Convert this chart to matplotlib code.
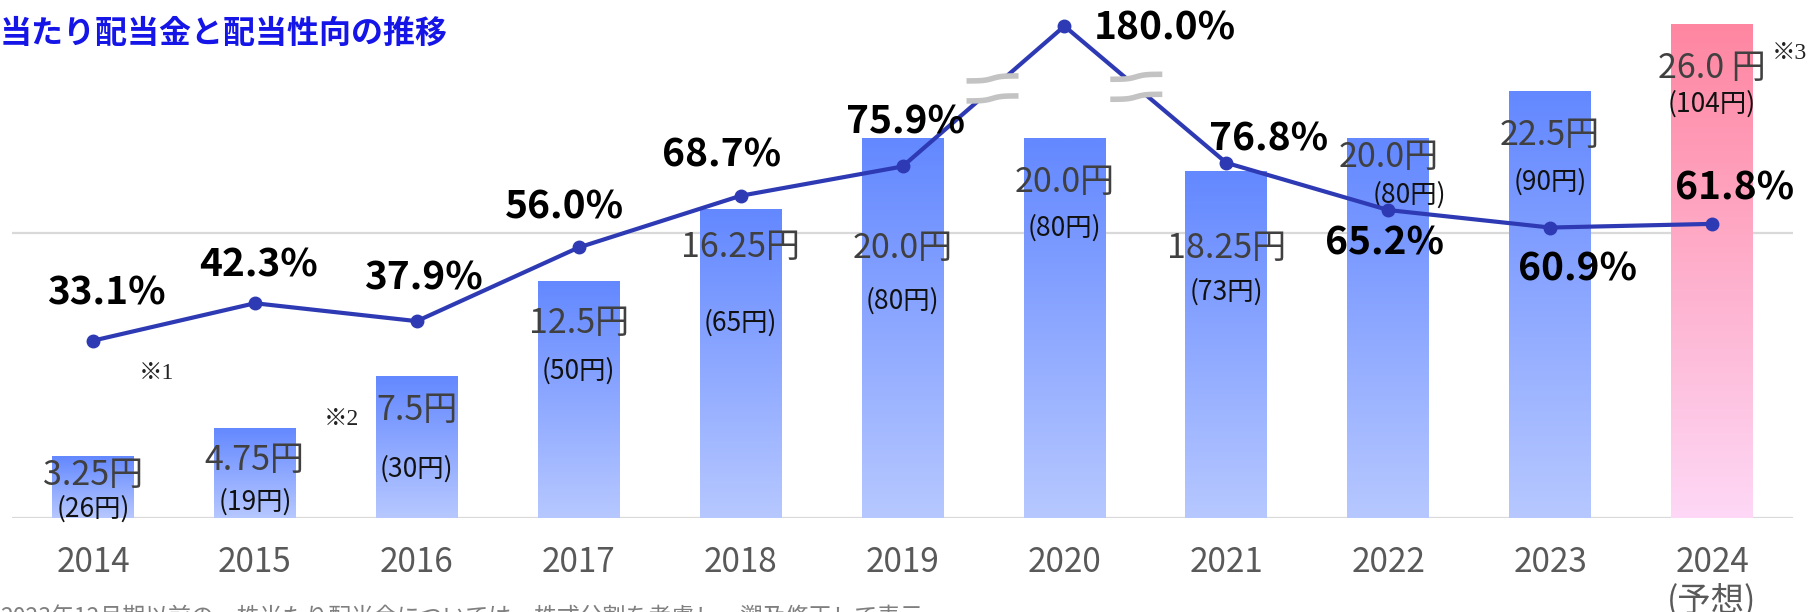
import numpy as np
import matplotlib
matplotlib.use('Agg')
import matplotlib.pyplot as plt
from matplotlib.colors import LinearSegmentedColormap
from matplotlib.transforms import ScaledTranslation, blended_transform_factory

plt.rcParams['font.family'] = ['Noto Sans CJK JP', 'DejaVu Sans']

# ---- data ----
years = ['2014', '2015', '2016', '2017', '2018', '2019', '2020', '2021', '2022', '2023', '2024\n(予想)']
dividend = [3.25, 4.75, 7.5, 12.5, 16.25, 20.0, 20.0, 18.25, 20.0, 22.5, 26.0]
dividend_text = ['3.25円', '4.75円', '7.5円', '12.5円', '16.25円', '20.0円', '20.0円',
                 '18.25円', '20.0円', '22.5円', '26.0 円']
pre_split_text = ['(26円)', '(19円)', '(30円)', '(50円)', '(65円)', '(80円)', '(80円)',
                  '(73円)', '(80円)', '(90円)', '(104円)']
payout = [33.1, 42.3, 37.9, 56.0, 68.7, 75.9, 180.0, 76.8, 65.2, 60.9, 61.8]
forecast = [False] * 10 + [True]
title = '当たり配当金と配当性向の推移'
footnote = '2023年12月期以前の一株当たり配当金については、株式分割を考慮し、遡及修正して表示'

# ---- layout (label placement) ----
payout_cap = 110.4          # broken axis: values above this are drawn at the cap
div_label_y = [1.74, 2.53, 5.16, 9.74, 13.74, 13.68, 17.16, 13.68, 18.47, 19.63, 23.16]
pre_label_y = [0.05, 0.42, 2.16, 7.32, 9.84, 11.0, 14.84, 11.47, 16.58, 17.26, 21.37]
pre_label_dx = [0, 0, 0, 0, 0, 0, 0, 0, 0.13, 0, 0]
pct_dx = [0.08, 0.02, 0.04, -0.09, -0.12, 0.02, 0.62, 0.26, -0.02, 0.17, 0.14]
pct_y = [41.9, 48.8, 45.6, 63.0, 75.8, 84.1, 107.0, 79.9, 54.2, 48.0, 67.7]
notes = [('※1', 0.395, 7.63), ('※2', 1.537, 5.16), ('※3', 10.475, 24.47)]

blue_cmap = LinearSegmentedColormap.from_list('blue', ['#B7C8FF', '#6388FF'])
pink_cmap = LinearSegmentedColormap.from_list('pink', ['#FDD8F6', '#FF86A1'])
line_color = '#2E3AB4'

fig = plt.figure(figsize=(18.09, 6.12), dpi=100)
ax = fig.add_axes([12 / 1809, 94 / 612, 1781 / 1809, 506 / 612])
ax2 = ax.twinx()
x = np.arange(len(years))

ax.set_xlim(-0.5, len(years) - 0.5)
ax.set_ylim(0, 506 / 19)
ax.set_yticks([0, 15])
ax.yaxis.grid(True, color='#D9D9D9', lw=1.6)
ax.set_axisbelow(True)
ax.tick_params(left=False, right=False, bottom=False, labelleft=False, labelbottom=False)
for s in ax.spines.values():
    s.set_visible(False)

bars = ax.bar(x, dividend, width=0.505, color='none', zorder=2)
grad = np.linspace(0, 1, 256).reshape(-1, 1)
for b, f in zip(bars, forecast):
    x0, w, h = b.get_x(), b.get_width(), b.get_height()
    im = ax.imshow(grad, cmap=pink_cmap if f else blue_cmap, origin='lower', aspect='auto',
                   extent=(x0, x0 + w, 0, h), zorder=2)
    im.set_clip_path(b)
ax.set_xlim(-0.5, len(years) - 0.5)
ax.set_ylim(0, 506 / 19)

for i in x:
    ax.text(i, div_label_y[i], dividend_text[i], ha='center', va='baseline',
            fontsize=24.5, color='#404040', zorder=4)
    ax.text(i + pre_label_dx[i], pre_label_y[i], pre_split_text[i], ha='center', va='baseline',
            fontsize=19, color='#111111', zorder=4)

for txt, nx, ny in notes:
    ax.text(nx, ny, txt, ha='center', va='center', fontsize=17, color='#222222',
            family=['Liberation Serif', 'Noto Sans CJK JP'])

# year labels
tr = blended_transform_factory(ax.transData, ax.transAxes)
for i, lab in enumerate(years):
    for k, part in enumerate(lab.split('\n')):
        ax.text(i, -0.1067 - 0.075 * k, part, transform=tr, ha='center', va='baseline',
                fontsize=24, color='#595959')

# payout ratio line
ax2.set_ylim(-10.47, 113.86)
ax2.axis('off')
shown = np.minimum(payout, payout_cap)
ax2.plot(x, shown, color=line_color, lw=3, marker='o', ms=9, zorder=3)
ax2.set_xlim(-0.5, len(years) - 0.5)
ax2.set_autoscale_on(False)

for i in x:
    ax2.text(i + pct_dx[i], pct_y[i], f'{payout[i]:.1f}%', ha='center', va='baseline',
             fontsize=28, fontweight='bold', color='black', zorder=6)

# break marks on the segments around the capped value
t = np.linspace(-1, 1, 60)
xs = t * 0.26
wave = 0.025 * np.tanh(3 * t)
for j in np.where(np.array(payout) > payout_cap)[0]:
    for bx in (j - 0.444, j + 0.444):
        by = np.interp(bx, x, shown)
        btr = fig.dpi_scale_trans + ScaledTranslation(bx, by, ax2.transData)
        ax2.fill(np.r_[xs, xs[::-1]], np.r_[wave - 0.10, (wave + 0.10)[::-1]],
                 color='white', transform=btr, zorder=7, lw=0)
        for off in (-0.10, 0.10):
            ax2.plot(xs, wave + off, color='#C3C3C3', lw=4, transform=btr, zorder=8,
                     solid_capstyle='butt')

fig.text(0.0, 0.9306, title, fontsize=23, fontweight='bold', color='#1515E8', va='baseline')
fig.text(0.0, -0.02, footnote, fontsize=16.5, color='#7F7F7F', va='baseline')

fig.savefig('out.png', dpi=100)
